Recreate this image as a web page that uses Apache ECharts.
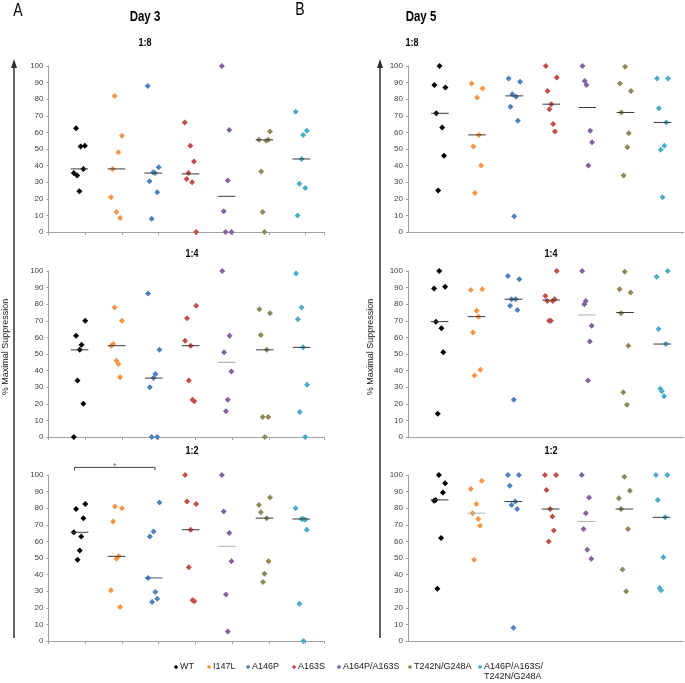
<!DOCTYPE html>
<html><head><meta charset="utf-8">
<script src="https://cdn.jsdelivr.net/npm/echarts@6/dist/echarts.min.js"></script>
<style>html,body{margin:0;padding:0;background:#fff}#c{width:685px;height:683px}</style>
</head><body><div id="c"></div>
<script>
const groups = ['WT','I147L','A146P','A163S','A164P/A163S','T242N/G248A','A146P/A163S/\nT242N/G248A'];
const yTicks = [0,10,20,30,40,50,60,70,80,90,100];

// Day 3, 1:8  ([x-position, % maximal suppression])
const day3_1to8 = [
  [[0.75,62.5],[0.875,51.5],[0.99,52],[0.95,38],[0.69,35.5],[0.78,34],[0.84,24.5]],
  [[1.8,82],[2.0,58],[1.9,48],[1.75,38],[1.7,21],[1.85,12],[1.95,8.5]],
  [[2.7,88],[3.0,39],[2.85,36],[2.9,35.5],[2.75,30.5],[2.96,24],[2.81,8]],
  [[3.71,66],[3.86,52],[3.96,42.5],[3.81,35.5],[3.76,32],[3.91,30],[4.02,0]],
  [[4.72,100],[4.92,61.5],[4.88,31],[4.77,12.5],[4.82,0],[4.98,0]],
  [[5.73,55.5],[6.03,60.5],[5.93,55],[5.98,55.5],[5.79,36.5],[5.83,12],[5.88,0]],
  [[6.73,72.5],[7.03,61],[6.93,58.5],[6.89,44],[6.83,29],[6.99,26.5],[6.78,10]]
];
const day3_1to8_med = [38,38,35.5,35,21.5,55.5,44];

// Day 3, 1:4
const day3_1to4 = [
  [[1.0,70],[0.75,61],[0.9,55.5],[0.85,52.5],[0.79,34],[0.95,20],[0.69,0]],
  [[1.8,78],[2.0,70],[1.76,56],[1.71,55],[1.85,46],[1.9,44],[1.95,36]],
  [[2.71,86.5],[3.02,52.5],[2.91,38],[2.86,35.5],[2.76,30],[2.81,0],[2.96,0]],
  [[4.02,79],[3.77,71.5],[3.72,58],[3.87,55],[3.82,34],[3.92,22.5],[3.97,21.5]],
  [[4.73,100],[4.93,61],[4.78,51],[4.98,39.5],[4.88,22.5],[4.83,15.5]],
  [[5.74,77],[6.03,74.5],[5.78,61.5],[5.94,52.5],[5.83,12],[5.98,12],[5.89,0]],
  [[6.74,98.5],[6.89,78],[6.79,71],[6.93,54],[7.04,31.5],[6.84,15],[6.99,0]]
];
const day3_1to4_med = [52.5,55,35.5,55,45,52.5,54];

// Day 3, 1:2
const day3_1to2 = [
  [[1.0,82.5],[0.75,79.5],[0.95,74],[0.69,65.5],[0.89,63],[0.85,54.5],[0.79,49]],
  [[1.81,81],[2.0,80],[1.76,72],[1.91,51],[1.85,49.5],[1.7,30.5],[1.95,20.5]],
  [[3.02,83.5],[2.86,66],[2.76,63],[2.71,38],[2.91,29.5],[2.96,25.5],[2.82,23.5]],
  [[3.72,100],[3.77,84],[4.02,82.5],[3.87,67],[3.82,44.5],[3.92,24.5],[3.97,24]],
  [[4.72,100],[4.77,78],[4.92,65],[4.98,48],[4.83,28],[4.88,5.7]],
  [[6.03,86.5],[5.73,82],[5.78,77.5],[5.94,74],[5.99,48],[5.88,40.5],[5.84,35.5]],
  [[6.73,80],[6.89,73.5],[6.94,73.5],[6.99,73],[7.03,67],[6.83,22.5],[6.94,0]]
];
const day3_1to2_med = [65.5,51,38,67,57,74,73.5];
const day3_1to2_bracket = [0.71, 2.9, 104.6];

// Day 5, 1:8
const day5_1to8 = [
  [[0.86,100],[0.72,88.5],[1.02,87],[0.77,71.5],[0.93,63],[0.98,46],[0.82,25]],
  [[1.73,89.5],[2.03,86.5],[1.88,81],[1.93,58.5],[1.78,51.5],[1.99,40],[1.82,23.5]],
  [[2.74,92.5],[3.05,90.5],[2.84,83],[2.94,81.5],[2.79,75.5],[2.99,67],[2.89,9.5]],
  [[3.75,100],[4.05,93],[3.8,85],[3.9,77],[3.85,74],[3.95,65],[4.0,60.5]],
  [[4.75,100],[4.81,91],[4.86,88.5],[4.96,61],[5.01,54],[4.91,40]],
  [[5.91,99.5],[5.77,89.5],[6.07,85],[5.81,72],[6.01,59.5],[5.97,51],[5.87,34]],
  [[6.78,92.5],[7.08,92.5],[6.83,74.5],[7.03,66],[6.98,52],[6.88,49.5],[6.93,21]]
];
const day5_1to8_med = [71.5,58.5,82,77,75,72,66];

// Day 5, 1:4
const day5_1to4 = [
  [[0.85,100],[0.71,89.5],[1.01,90.5],[0.76,69.5],[0.91,65.5],[0.96,51],[0.81,14]],
  [[1.71,88.5],[2.02,89],[1.87,76],[1.92,72.5],[1.77,63],[1.97,40.5],[1.81,37]],
  [[2.72,97],[3.03,95],[2.82,83],[2.93,83],[2.78,79],[2.98,76.5],[2.88,22.5]],
  [[4.05,100],[3.74,85],[3.79,82],[3.94,82],[3.99,83],[3.84,70],[3.89,70]],
  [[4.74,100],[4.84,82],[4.8,80],[5.0,67],[4.95,57.5],[4.9,34]],
  [[5.9,99.5],[5.76,89],[6.06,87],[5.8,74.5],[6.0,55],[5.86,27],[5.96,19.5]],
  [[7.07,100],[6.77,96.5],[6.82,65],[7.02,56],[6.87,29],[6.91,27.5],[6.97,24.5]]
];
const day5_1to4_med = [69.5,72.5,83,82.5,73.5,75,56];

// Day 5, 1:2
const day5_1to2 = [
  [[0.84,100],[1.01,95],[0.95,89.5],[0.75,85],[0.71,84.5],[0.9,62],[0.8,31.5]],
  [[2.01,96.5],[1.71,91.5],[1.86,82.5],[1.76,77],[1.91,73.5],[1.96,69.5],[1.8,49]],
  [[2.72,100],[3.02,100],[2.77,93.5],[2.92,84],[2.82,82],[2.97,79.5],[2.87,8]],
  [[3.73,100],[4.03,100],[3.77,91],[3.87,79.5],[3.93,75],[3.97,66.5],[3.83,60]],
  [[4.73,100],[4.93,86.5],[4.84,77],[4.78,67.5],[4.88,55],[4.99,49.5]],
  [[5.89,99],[6.04,90.5],[5.74,86],[5.8,79.5],[5.99,67.5],[5.84,43],[5.94,30]],
  [[6.75,100],[7.06,100],[6.8,85],[7.0,74.5],[6.95,50.5],[6.85,32],[6.89,30.5]]
];
const day5_1to2_med = [85,77,84,79.5,72,79.5,74.5];

// ---------------- styling / layout ----------------
const colors = ['#000000','#f79646','#4f81bd','#c0504d','#8064a2','#8c8a58','#4bacc6'];
const FONT = '"Liberation Sans",Arial,sans-serif';
const colLeft = [48.5, 408];
const gridW = 275.5;
const rowTop = [66, 271, 475];
const gridH = 166;

const panels = [
  {pts: day3_1to8, med: day3_1to8_med, col:0, row:0, medCol:{}},
  {pts: day3_1to4, med: day3_1to4_med, col:0, row:1, medCol:{4:'#a6a6a6'}},
  {pts: day3_1to2, med: day3_1to2_med, col:0, row:2, medCol:{2:'#3f5f8f',4:'#b0b0b0'}},
  {pts: day5_1to8, med: day5_1to8_med, col:1, row:0, medCol:{}},
  {pts: day5_1to4, med: day5_1to4_med, col:1, row:1, medCol:{4:'#b0b0b0'}},
  {pts: day5_1to2, med: day5_1to2_med, col:1, row:2, medCol:{1:'#b0b0b0',4:'#b0b0b0'}}
];

const grid = [], xAxis = [], yAxis = [], series = [];
panels.forEach((p, k) => {
  grid.push({left: colLeft[p.col], top: rowTop[p.row], width: gridW, height: gridH, containLabel:false});
  xAxis.push({type:'value', gridIndex:k, min:0, max:7.5, interval:1,
    axisLine:{show:true, lineStyle:{color:'#a0a0a0', width:1}},
    axisTick:{show: p.col===0, length:3, inside:false, lineStyle:{color:'#a0a0a0'}},
    axisLabel:{show:false}, splitLine:{show:false}});
  yAxis.push({type:'value', gridIndex:k, min:yTicks[0], max:yTicks[yTicks.length-1], interval:10,
    axisLine:{show:true, lineStyle:{color:'#a0a0a0', width:1}},
    axisTick:{show:true, length:2, lineStyle:{color:'#a0a0a0'}},
    axisLabel:{show:true, fontSize:8, color:'#404040', margin:5, fontFamily:FONT},
    splitLine:{show:false}});
  p.pts.forEach((arr, g) => {
    series.push({type:'scatter', name:groups[g], xAxisIndex:k, yAxisIndex:k, data:arr,
      symbol:'diamond', symbolSize:6, itemStyle:{color:colors[g], opacity:1}, z:3, clip:false,
      emphasis:{disabled:true}});
  });
  const medData = p.med.map((m, g) => {
    const xs = p.pts[g].map(d => d[0]);
    return [(Math.min(...xs) + Math.max(...xs)) / 2, m, g];
  });
  series.push({type:'custom', xAxisIndex:k, yAxisIndex:k, data:medData, z:4, clip:false,
    encode:{x:0, y:1},
    renderItem: (params, api) => {
      const c = api.value(0), m = api.value(1), g = api.value(2);
      const a = api.coord([c - 0.24, m]), b = api.coord([c + 0.24, m]);
      return {type:'line', shape:{x1:a[0], y1:a[1], x2:b[0], y2:b[1]},
        style:{stroke: p.medCol[g] || '#3a3a3a', lineWidth:1}};
    }});
});

// significance bracket on Day 3 1:2 (panel index 2)
series.push({type:'custom', xAxisIndex:2, yAxisIndex:2, data:[day3_1to2_bracket], clip:false, z:5,
  renderItem: (params, api) => {
    const x1 = api.value(0), x2 = api.value(1), y = api.value(2);
    const a = api.coord([x1, y]), b = api.coord([x2, y]);
    return {type:'group', children:[
      {type:'polyline', shape:{points:[[a[0], a[1]+3],[a[0], a[1]],[b[0], b[1]],[b[0], b[1]+3]]},
        style:{stroke:'#404040', lineWidth:1, fill:null}},
      {type:'text', style:{text:'*', x:(a[0]+b[0])/2, y:a[1]-1, fill:'#707070', fontSize:9,
        align:'center', verticalAlign:'middle', fontFamily:FONT}}
    ]};
  }});

// ---------------- graphics: titles, arrows, legend ----------------
const graphic = [];
function txt(x, y, s, size, weight, sx) {
  graphic.push({type:'text', x:x, y:y, scaleX:sx || 0.82, style:{text:s, fontSize:size,
    fontWeight:weight||'normal', fontFamily:FONT, align:'center', verticalAlign:'middle', fill:'#000'}});
}
txt(18, 11, 'A', 18, 'normal', 0.78);
txt(300, 10, 'B', 18, 'normal', 0.78);
txt(145, 17, 'Day 3', 14, 'bold');
txt(421, 17, 'Day 5', 14, 'bold');
txt(145, 43, '1:8', 11, 'bold');
txt(412, 43, '1:8', 11, 'bold');
txt(192, 254, '1:4', 11, 'bold');
txt(551, 254, '1:4', 11, 'bold');
txt(192, 451, '1:2', 11, 'bold');
txt(551, 451, '1:2', 11, 'bold');

[14, 380].forEach(lx => {
  graphic.push({type:'line', shape:{x1:lx, y1:66, x2:lx, y2:638}, style:{stroke:'#303030', lineWidth:1.5}});
  graphic.push({type:'polygon', shape:{points:[[lx-3, 68],[lx, 59],[lx+3, 68]]}, style:{fill:'#303030'}});
});
[6, 371].forEach(tx => {
  graphic.push({type:'text', x:tx, y:347, rotation:Math.PI/2,
    style:{text:'% Maximal Suppression', fontSize:9, fontFamily:FONT, fill:'#202020',
      align:'center', verticalAlign:'middle'}});
});

const legX = [176, 209, 248, 294, 339, 410, 480];
groups.forEach((g, i) => {
  const x = legX[i], y = 667;
  graphic.push({type:'polygon', shape:{points:[[x, y-2.2],[x+2.2, y],[x, y+2.2],[x-2.2, y]]},
    style:{fill:colors[i]}});
  const lines = g.split('\n');
  lines.forEach((ln, j) => {
    graphic.push({type:'text', x:x+4, y:y + j*10, style:{text:ln, fontSize:9, fontFamily:FONT,
      fill:'#202020', align:'left', verticalAlign:'middle'}});
  });
});

const chart = echarts.init(document.getElementById('c'), null, {renderer:'canvas'});
chart.setOption({animation:false, backgroundColor:'#fff', grid, xAxis, yAxis, series, graphic,
  tooltip:{show:false}});
</script></body></html>
